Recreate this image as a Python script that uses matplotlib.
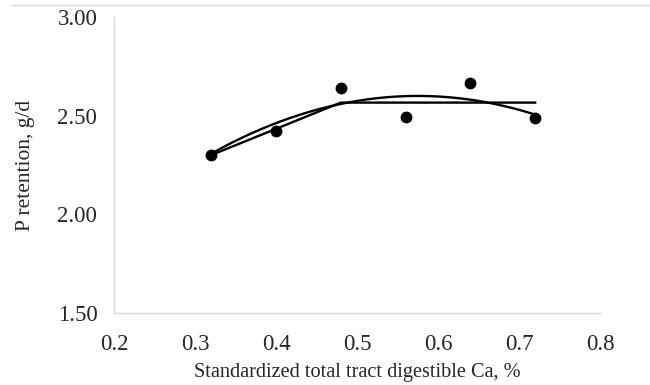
import numpy as np
import matplotlib
matplotlib.use("Agg")
import matplotlib.pyplot as plt
from matplotlib.lines import Line2D

# observed means
ca_level = [0.32, 0.40, 0.48, 0.56, 0.64, 0.72]
p_retention = [2.30, 2.42, 2.64, 2.495, 2.667, 2.487]

# broken-line (linear plateau) fit vertices
bl_x = [0.32, 0.48, 0.72]
bl_y = [2.30, 2.566, 2.566]

# quadratic fit y = a + b*x + c*x^2
quad_a, quad_b, quad_c = 1.112, 5.175, -4.5

xticks = [0.2, 0.3, 0.4, 0.5, 0.6, 0.7, 0.8]
yticks = [1.50, 2.00, 2.50, 3.00]

plt.rcParams["font.family"] = ["Liberation Serif", "DejaVu Serif"]
txt = "#262626"

fig = plt.figure(figsize=(6.5, 3.85), dpi=100)
ax = fig.add_axes([0.1754, 0.187, 0.7476, 0.769])

xq = np.linspace(min(ca_level), max(ca_level), 200)
ax.plot(xq, quad_a + quad_b * xq + quad_c * xq ** 2, color="black", lw=1.7)
ax.plot(bl_x, bl_y, color="black", lw=1.7)
ax.plot(ca_level, p_retention, "o", color="black", ms=7.5, zorder=3)

ax.set_xlim(0.2, 0.8)
ax.set_ylim(1.5, 3.0)
ax.set_xticks(xticks)
ax.set_xticklabels([f"{v:.1f}" for v in xticks])
ax.set_yticks(yticks)
ax.set_yticklabels([f"{v:.2f}" for v in yticks])
ax.tick_params(length=0, labelsize=16.5, colors=txt)
ax.tick_params(axis="y", pad=12)
ax.tick_params(axis="x", pad=15)
for s in ["top", "right"]:
    ax.spines[s].set_visible(False)
for s in ["left", "bottom"]:
    ax.spines[s].set_color("#d9d9d9")
    ax.spines[s].set_linewidth(1.0)

ax.set_xlabel("Standardized total tract digestible Ca, %", fontsize=14.6,
              color=txt, labelpad=6)
ax.set_ylabel("P retention, g/d", fontsize=15.5, color=txt, labelpad=16)

fig.add_artist(Line2D([0.017, 1.0], [1 - 5 / 385, 1 - 5 / 385],
                      transform=fig.transFigure, color="#d9d9d9", lw=1.0))

fig.savefig("out.png", dpi=100)
plt.close(fig)
